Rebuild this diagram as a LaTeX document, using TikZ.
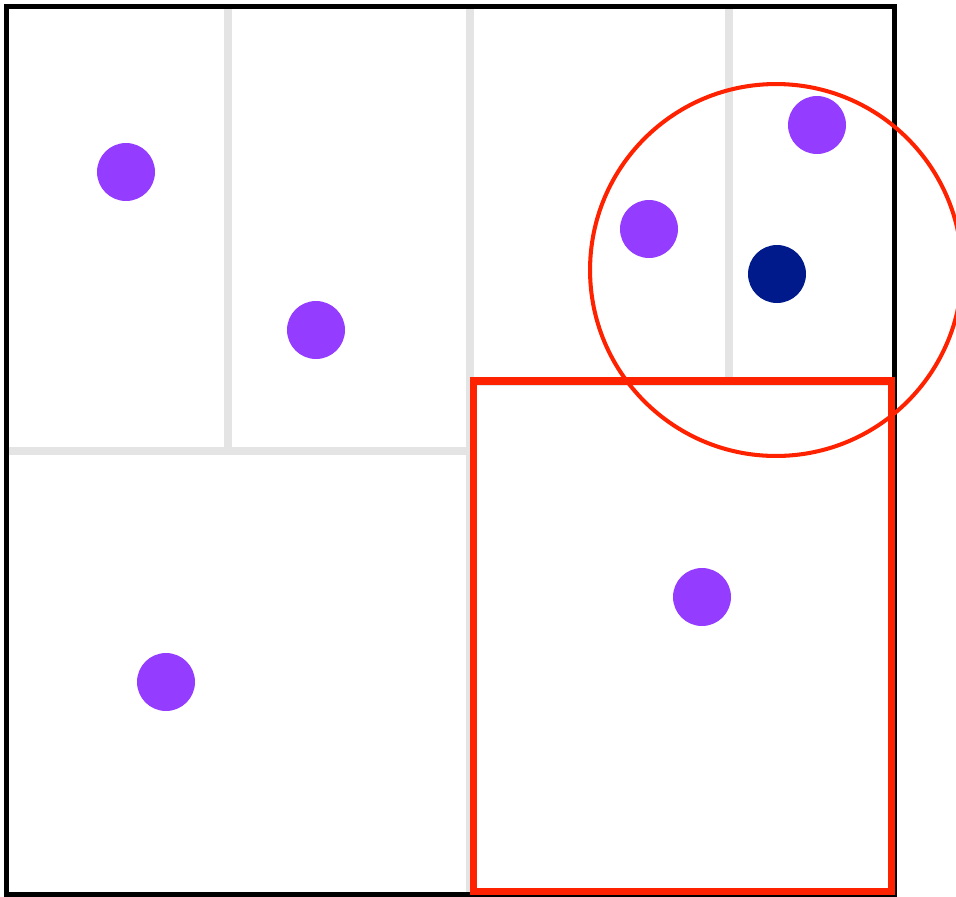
\documentclass[tikz,border=0pt]{standalone}
\usepackage{xcolor}
\usepackage{tikz}
\usetikzlibrary{positioning}
\definecolor{mypurple}{RGB}{148,60,255}
\definecolor{mynavy}{RGB}{0,26,140}
\definecolor{myred}{RGB}{255,34,0}
\definecolor{mygrid}{RGB}{228,228,228}
\tikzset{
  point/.style={circle, fill=mypurple, minimum size=1.16cm, inner sep=0pt},
  query/.style={circle, fill=mynavy, minimum size=1.16cm, inner sep=0pt},
  split/.style={color=mygrid, line width=4pt},
  frame/.style={draw=black, line width=2.8pt},
  searchball/.style={circle, draw=myred, line width=2.3pt, minimum size=7.44cm, inner sep=0pt},
  cell/.style={draw=myred, line width=4.5pt}
}

\begin{document}
\begin{tikzpicture}[x=0.02cm, y=-0.02cm]
  \useasboundingbox (0,0) rectangle (956,896);

  % Splits
  \draw[split] (470,7) -- (470,893);
  \draw[split] (7,451) -- (470,451);
  \draw[split] (228,7) -- (228,451);
  \draw[split] (470,382) -- (895,382);
  \draw[split] (729,7) -- (729,382);

  % Frame
  \draw[frame] (6.5,6.5) rectangle (894.5,894.5);

  % Points
  \node[point] (p1) at (126,172) {};
  \node[point] (p2) at (316,330) {};
  \node[point] (p3) at (649,229) {};
  \node[point] (p4) at (817,125) {};
  \node[point] (p5) at (702,597) {};
  \node[point] (p6) at (166,682) {};
  \node[query] (q) at (777,274) {};

  % Search region and cell
  \node[searchball] (ball) at (776,270) {};
  \draw[cell] (473.5,381) rectangle (891.5,891.5);
\end{tikzpicture}
\end{document}
